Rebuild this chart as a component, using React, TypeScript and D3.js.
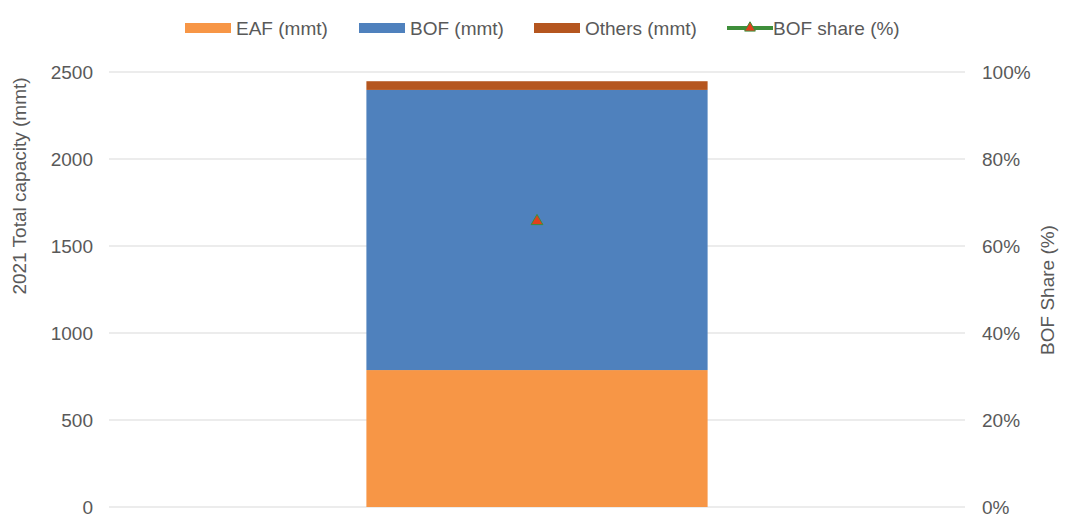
import React from "react";
import * as d3 from "d3";

const categories = ["2021"];
const eafValues = [787];
const bofValues = [1610];
const othersValues = [50];
const bofShare = [0.657];
const leftTicks = [0, 500, 1000, 1500, 2000, 2500];
const rightTicks = [0, 0.2, 0.4, 0.6, 0.8, 1.0];

const W = 1070;
const H = 525;
const M = { left: 109, right: 105, top: 72, bottom: 18 };

const COLORS = {
  eaf: "#F79646",
  bof: "#4F81BD",
  others: "#B5561F",
  line: "#3E8E3A",
  marker: "#E2401B",
  text: "#595959",
  grid: "#D9D9D9",
};

export default function App() {
  const plotL = M.left;
  const plotR = W - M.right;
  const plotT = M.top;
  const plotB = H - M.bottom;

  const x = d3.scaleBand<string>().domain(categories).range([plotL, plotR]).padding(0.43);
  const y = d3.scaleLinear().domain([0, 2500]).range([plotB, plotT]);
  const y2 = d3.scaleLinear().domain([0, 1]).range([plotB, plotT]);

  const stackData = categories.map((c, i) => ({
    cat: c,
    eaf: eafValues[i],
    bof: bofValues[i],
    others: othersValues[i],
  }));
  const stack = d3.stack<any>().keys(["eaf", "bof", "others"])(stackData);
  const fontFamily = "'Liberation Sans', Arial, sans-serif";
  const tri = d3.symbol().type(d3.symbolTriangle).size(60)() as string;
  const triSmall = d3.symbol().type(d3.symbolTriangle).size(50)() as string;

  const legendItems = [
    { label: "EAF (mmt)", color: COLORS.eaf, x: 185, type: "rect" },
    { label: "BOF (mmt)", color: COLORS.bof, x: 359, type: "rect" },
    { label: "Others (mmt)", color: COLORS.others, x: 534, type: "rect" },
    { label: "BOF share (%)", color: COLORS.line, x: 727, type: "line" },
  ];

  return (
    <div style={{ position: "absolute", left: 0, top: 0 }}>
      <svg width={W} height={H} style={{ display: "block", background: "#fff" }} fontFamily={fontFamily}>
        {leftTicks.map((t) => (
          <line key={"g" + t} x1={plotL} x2={plotR} y1={y(t)} y2={y(t)} stroke={COLORS.grid} strokeWidth={1} />
        ))}
        {stack.map((layer) => (
          <g key={layer.key} fill={(COLORS as any)[layer.key]}>
            {layer.map((d, i) => (
              <rect
                key={i}
                x={x(d.data.cat)}
                width={x.bandwidth()}
                y={y(d[1])}
                height={y(d[0]) - y(d[1])}
              />
            ))}
          </g>
        ))}
        {categories.map((c, i) => (
          <path
            key={"m" + c}
            d={tri}
            transform={`translate(${(x(c) as number) + x.bandwidth() / 2},${y2(bofShare[i])})`}
            fill={COLORS.marker}
            stroke={COLORS.line}
            strokeWidth={1}
          />
        ))}
        {leftTicks.map((t) => (
          <text key={"l" + t} x={93} y={y(t)} dy="0.35em" textAnchor="end" fontSize={19} fill={COLORS.text}>
            {t}
          </text>
        ))}
        {rightTicks.map((t) => (
          <text key={"r" + t} x={982} y={y2(t)} dy="0.35em" textAnchor="start" fontSize={19} fill={COLORS.text}>
            {d3.format(".0%")(t)}
          </text>
        ))}
        <text
          transform={`translate(26,186) rotate(-90)`}
          textAnchor="middle"
          fontSize={19}
          fill={COLORS.text}
        >
          2021 Total capacity (mmt)
        </text>
        <text
          transform={`translate(1054,290) rotate(-90)`}
          textAnchor="middle"
          fontSize={19}
          fill={COLORS.text}
        >
          BOF Share (%)
        </text>
        {legendItems.map((it) => (
          <g key={it.label} transform={`translate(${it.x},28)`}>
            {it.type === "rect" ? (
              <rect x={0} y={-5} width={46} height={10} fill={it.color} />
            ) : (
              <g>
                <line x1={0} x2={46} y1={0} y2={0} stroke={it.color} strokeWidth={4} />
                <path d={triSmall} transform="translate(23,0)" fill={COLORS.marker} stroke={COLORS.line} strokeWidth={1} />
              </g>
            )}
            <text x={it.type === "rect" ? 51 : 46} y={0} dy="0.35em" fontSize={19} fill={COLORS.text}>
              {it.label}
            </text>
          </g>
        ))}
      </svg>
    </div>
  );
}
